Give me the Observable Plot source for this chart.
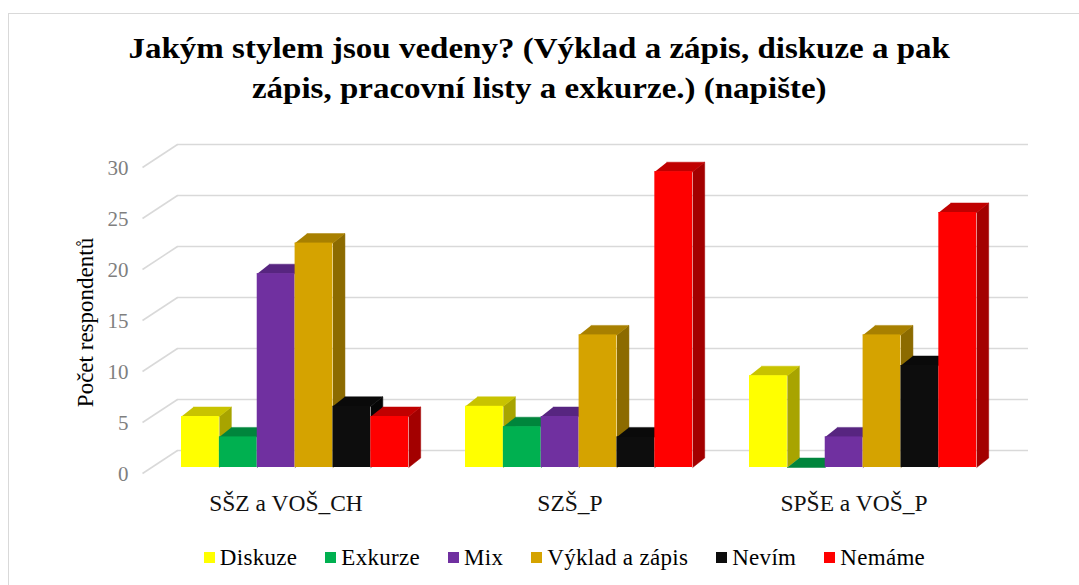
<!DOCTYPE html>
<html>
<head>
<meta charset="utf-8">
<script src="https://cdn.jsdelivr.net/npm/d3@7"></script>
<script src="https://cdn.jsdelivr.net/npm/@observablehq/plot@0.6"></script>
<style>
  html, body { margin: 0; padding: 0; background: #fff; }
  body { width: 1079px; height: 585px; overflow: hidden; position: relative; font-family: "Liberation Serif", "Times New Roman", serif; }
  #frame { position: absolute; left: 8px; top: 13px; width: 1200px; height: 700px; border: 1.5px solid #d9d9d9; box-sizing: border-box; pointer-events: none; }
  #title { position: relative; height: 120px; box-sizing: border-box; padding-top: 28px; text-align: center; font-weight: bold; font-size: 30px; line-height: 40px; color: #000; transform: scaleX(1.1); transform-origin: 542px 0; }
  #chart { position: relative; height: 410px; }
  #legend { position: relative; height: 55px; display: flex; justify-content: center; align-items: center; font-size: 23px; letter-spacing: 0.3px; color: #000; padding-left: 50px; box-sizing: border-box; }
  .item { display: flex; align-items: center; margin: 0 14px; }
  .sw { width: 11px; height: 11px; margin-right: 5px; }
</style>
</head>
<body>
<div id="frame"></div>
<div id="title">Jakým stylem jsou vedeny? (Výklad a zápis, diskuze a pak<br>zápis, pracovní listy a exkurze.) (napište)</div>
<div id="chart"></div>
<div id="legend"></div>
<script>
// ---- data ----
const groups = ["SŠZ a VOŠ_CH", "SZŠ_P", "SPŠE a VOŠ_P"];
const series = ["Diskuze", "Exkurze", "Mix", "Výklad a zápis", "Nevím", "Nemáme"];
const diskuze = [5, 6, 9];
const exkurze = [3, 4, 0];
const mix = [19, 5, 3];
const vyklad = [22, 13, 13];
const nevim = [6, 3, 10];
const nemame = [5, 29, 25];
const yTicks = [0, 5, 10, 15, 20, 25, 30];
const frontColors = ["#ffff00", "#00b050", "#7030a0", "#d5a300", "#0d0d0d", "#ff0000"];
const topColors   = ["#c8c300", "#00853c", "#572580", "#a88000", "#0a0a0a", "#c00000"];
const sideColors  = ["#a8a400", "#006e33", "#4a1f6b", "#8c6b00", "#050505", "#a30000"];

// ---- layout constants ----
const values = [diskuze, exkurze, mix, vyklad, nevim, nemame];
const UNIT = 284 / 7.5;       // px per bar slot
const X0 = 181;               // px of slot 0
const GROUP_STEP = 7.5;       // slots per group
const Y0 = 347, PXV = 10.2;   // baseline px and px per value
const px2x = px => (px - X0) / UNIT;
const DEPTH_X = 12 / UNIT, DEPTH_Y = 9.5 / PXV; // bar depth in scale units

const bars = [];
groups.forEach((g, gi) => series.forEach((s, si) => {
  bars.push({group: g, series: s, value: values[si][gi], slot: gi * GROUP_STEP + si, si});
}));

const tops = [], sides = [];
bars.forEach((b, i) => {
  const x = b.slot, v = b.value;
  [[x, v], [x + 1, v], [x + 1 + DEPTH_X, v + DEPTH_Y], [x + DEPTH_X, v + DEPTH_Y]]
    .forEach(([px, py]) => tops.push({id: i, x: px, y: py, c: topColors[b.si]}));
  if (v > 0) [[x + 1, 0], [x + 1 + DEPTH_X, DEPTH_Y], [x + 1 + DEPTH_X, v + DEPTH_Y], [x + 1, v]]
    .forEach(([px, py]) => sides.push({id: i, x: px, y: py, c: sideColors[b.si]}));
});

const BACK_DY = -17;
const plot = Plot.plot({
  width: 1079,
  height: 410,
  marginTop: 41,
  marginBottom: 63,
  marginLeft: 0,
  marginRight: 0,
  x: {type: "linear", domain: [0, 1], range: [X0, X0 + UNIT], axis: null},
  y: {type: "linear", domain: [0, 30], range: [Y0, Y0 - 30 * PXV], axis: null},
  color: {type: "identity"},
  style: {fontFamily: "Liberation Serif, Times New Roman, serif", background: "transparent"},
  marks: [
    // back wall gridlines
    Plot.ruleY(yTicks, {y: d => d, x1: px2x(177), x2: px2x(1028), dy: BACK_DY, stroke: "#d9d9d9", strokeWidth: 1.5}),
    // side wall diagonals
    Plot.link(yTicks, {x1: px2x(142), x2: px2x(177), y1: d => d - 6 / PXV, y2: d => d - BACK_DY / PXV, stroke: "#d9d9d9", strokeWidth: 1.5}),
    // tick labels
    Plot.text(yTicks, {x: px2x(128), y: d => d, dy: 6.5, text: d => String(d), textAnchor: "end", fill: "#7f7f7f", fontSize: 21}),
    // bar side faces
    Plot.line(sides, {x: "x", y: "y", z: "id", fill: "c", stroke: "c", strokeWidth: 0.5, curve: "linear"}),
    // bar top faces
    Plot.line(tops, {x: "x", y: "y", z: "id", fill: "c", stroke: "c", strokeWidth: 0.5, curve: "linear"}),
    // bar front faces
    Plot.rect(bars, {x1: "slot", x2: d => d.slot + 1, y1: 0, y2: "value", fill: d => frontColors[d.si]}),
    // category labels
    Plot.text(groups, {x: (d, i) => i * GROUP_STEP + 3 - 0.24, y: 0, dy: 36, text: d => d, fill: "#111", fontSize: 23.5}),
    // y axis title
    Plot.text(["Počet respondentů"], {frameAnchor: "left", dx: 85, dy: 8, rotate: -90, textAnchor: "middle", fill: "#000", fontSize: 23})
  ]
});
document.getElementById("chart").appendChild(plot);

// legend
const legend = document.getElementById("legend");
series.forEach((s, i) => {
  const item = document.createElement("div");
  item.className = "item";
  const sw = document.createElement("div");
  sw.className = "sw";
  sw.style.background = frontColors[i];
  const t = document.createElement("span");
  t.textContent = s;
  item.appendChild(sw);
  item.appendChild(t);
  legend.appendChild(item);
});
</script>
</body>
</html>
